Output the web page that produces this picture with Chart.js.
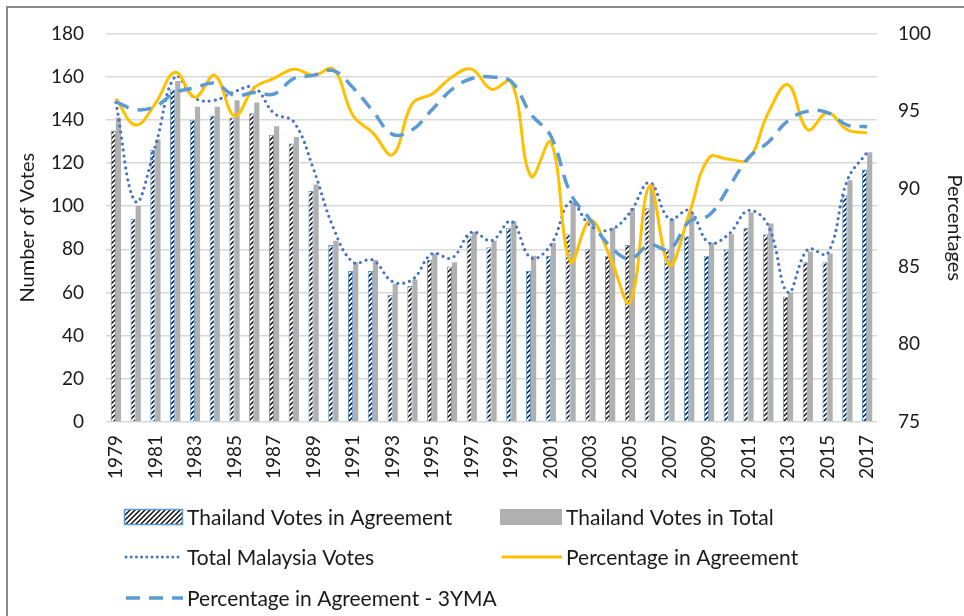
<!DOCTYPE html>
<html>
<head>
<meta charset="utf-8">
<script src="https://cdn.jsdelivr.net/npm/chart.js@4.4.1/dist/chart.umd.min.js"></script>
<style>
  html, body { margin: 0; padding: 0; background: #fff; }
  #wrap { width: 964px; height: 616px; position: relative; }
</style>
</head>
<body>
<div id="wrap"><canvas id="c" width="964" height="616"></canvas></div>
<script>
const years = [1979,1980,1981,1982,1983,1984,1985,1986,1987,1988,1989,1990,1991,1992,1993,1994,1995,1996,1997,1998,1999,2000,2001,2002,2003,2004,2005,2006,2007,2008,2009,2010,2011,2012,2013,2014,2015,2016,2017];
const tickLabels = years.map(String);

const thailandAgreement = [135,94,126,154,140,142,141,143,133,129,107,82,70,70,59,63,75,72,86,81,90,70,77,87,80,77,82,99,80,86,77,80,90,87,58,74,74,105,117];
const thailandTotal = [141,100,131,158,146,146,149,148,137,132,110,84,74,75,64,66,78,74,88,84,93,77,83,102,91,90,99,110,94,97,83,87,97,92,60,79,78,112,125];
const malaysiaTotal = [148,102,128,160,150,149,153,155,143,139,117,90,74,75,65,66,78,76,88,84,93,76,82,102,91,89,97,111,94,98,83,87,98,91,60,80,78,112,125];
const pctAgreement = [95.8,94.1,95.5,97.5,95.9,97.3,94.7,96.5,97.1,97.7,97.3,97.7,94.7,93.6,92.2,95.5,96.1,97.2,97.7,96.4,96.9,90.8,93.0,85.3,88.0,85.6,82.7,90.2,85.1,88.4,92.0,91.9,91.9,94.9,96.7,93.8,94.9,93.8,93.6];
const pct3YMA = [95.6,95.1,95.3,96.2,96.5,96.8,96.0,96.2,96.1,97.1,97.3,97.6,96.5,95.0,93.5,93.8,95.1,96.4,97.1,97.2,96.9,94.8,93.4,89.7,88.0,86.3,85.5,86.4,86.1,87.9,88.3,90.1,92.0,93.0,94.4,95.0,94.9,94.1,94.0];

const seriesNames = ['Thailand Votes in Agreement','Thailand Votes in Total','Total Malaysia Votes','Percentage in Agreement','Percentage in Agreement - 3YMA'];

const FONT = 'Lato';
const TXT = '#1a1a1a';
const BLUE_LIGHT = '#5B9BD5';
const BLUE_DARK = '#4472C4';
const ORANGE = '#FFC000';
const GRAY = '#B0B0B0';

function makeHatch() {
  const t = document.createElement('canvas');
  t.width = 5; t.height = 5;
  const g = t.getContext('2d');
  g.fillStyle = '#fff'; g.fillRect(0,0,5,5);
  g.strokeStyle = '#000'; g.lineWidth = 1.4;
  g.beginPath();
  g.moveTo(0,5); g.lineTo(5,0);
  g.moveTo(-1,1); g.lineTo(1,-1);
  g.moveTo(4,6); g.lineTo(6,4);
  g.stroke();
  return document.getElementById('c').getContext('2d').createPattern(t, 'repeat');
}
const hatch = makeHatch();

const frameAndLegend = {
  id: 'frameAndLegend',
  beforeDraw(chart) {
    const ctx = chart.ctx;
    ctx.save();
    ctx.fillStyle = '#fff';
    ctx.fillRect(0,0,chart.width,chart.height);
    ctx.restore();
  },
  afterDraw(chart) {
    const ctx = chart.ctx;
    ctx.save();
    ctx.strokeStyle = '#8a8a8a';
    ctx.lineWidth = 2;
    ctx.beginPath();
    ctx.moveTo(7, 616); ctx.lineTo(7, 7); ctx.lineTo(964, 7);
    ctx.stroke();

    const items = [
      {x:124, y:517, w:59, kind:'hatch'},
      {x:500, y:517, w:62, kind:'gray'},
      {x:124, y:557, w:59, kind:'dot'},
      {x:500, y:557, w:62, kind:'solid'},
      {x:124, y:598, w:59, kind:'dash'}
    ];
    ctx.font = '21px ' + FONT;
    ctx.textBaseline = 'middle';
    ctx.textAlign = 'left';
    items.forEach((it, i) => {
      if (it.kind === 'hatch') {
        ctx.fillStyle = hatch;
        ctx.fillRect(it.x, it.y-8, it.w, 16);
        ctx.strokeStyle = BLUE_LIGHT; ctx.lineWidth = 1.5;
        ctx.strokeRect(it.x+0.5, it.y-7.5, it.w-1, 15);
      } else if (it.kind === 'gray') {
        ctx.fillStyle = GRAY;
        ctx.fillRect(it.x, it.y-8, it.w, 16);
      } else {
        ctx.beginPath();
        ctx.lineWidth = 3;
        if (it.kind === 'dot') { ctx.strokeStyle = BLUE_DARK; ctx.setLineDash([0,5.2]); ctx.lineCap = 'round'; }
        if (it.kind === 'solid') { ctx.strokeStyle = ORANGE; ctx.setLineDash([]); ctx.lineCap = 'butt'; }
        if (it.kind === 'dash') { ctx.strokeStyle = BLUE_LIGHT; ctx.lineWidth = 3.5; ctx.setLineDash([14,9]); ctx.lineCap = 'butt'; }
        ctx.moveTo(it.x+2, it.y); ctx.lineTo(it.x+it.w, it.y);
        ctx.stroke();
        ctx.setLineDash([]);
      }
      ctx.fillStyle = TXT;
      ctx.fillText(seriesNames[i], it.x + it.w + 4, it.y + 1);
    });
    ctx.restore();
  }
};

const tickFont = {family: FONT, size: 19};

new Chart(document.getElementById('c'), {
  data: {
    labels: years,
    datasets: [
      {type:'line', label: seriesNames[4], data: pct3YMA, yAxisID:'y1', borderColor: BLUE_LIGHT, borderWidth: 3.5, borderDash:[14,9], pointRadius:0, tension:0.4, fill:false, order:0},
      {type:'line', label: seriesNames[3], data: pctAgreement, yAxisID:'y1', borderColor: ORANGE, borderWidth: 3, pointRadius:0, tension:0.4, fill:false, order:1},
      {type:'line', label: seriesNames[2], data: malaysiaTotal, yAxisID:'y', borderColor: BLUE_DARK, borderWidth: 3.2, borderDash:[0,6], borderCapStyle:'round', pointRadius:0, tension:0.4, fill:false, order:2},
      {type:'bar', label: seriesNames[0], data: thailandAgreement, yAxisID:'y', backgroundColor: hatch, borderColor: BLUE_LIGHT, borderWidth: 1, categoryPercentage: 0.52, barPercentage: 1.0, order:3},
      {type:'bar', label: seriesNames[1], data: thailandTotal, yAxisID:'y', backgroundColor: GRAY, borderWidth: 0, categoryPercentage: 0.52, barPercentage: 1.0, order:4}
    ]
  },
  options: {
    responsive: false,
    animation: false,
    layout: {padding: {left: 7, top: 26, right: 0, bottom: 0}},
    plugins: {legend: {display: false}, tooltip: {enabled: false}},
    scales: {
      x: {
        grid: {display: false, drawTicks: false},
        border: {display: false},
        ticks: {
          autoSkip: false, maxRotation: 90, minRotation: 90, padding: 13,
          font: tickFont, color: TXT,
          callback: (v, i) => (i % 2 === 0 ? tickLabels[i] : '')
        },
        afterFit(s) { s.height = 194; }
      },
      y: {
        position: 'left', min: 0, max: 180,
        ticks: {stepSize: 20, padding: 22, font: tickFont, color: TXT},
        grid: {color: '#d9d9d9', lineWidth: 1.5, drawTicks: false},
        border: {display: false},
        title: {display: true, text: 'Number of Votes', color: TXT, font: {family: FONT, size: 20, lineHeight: 1}, padding: {top: 11, bottom: 0}},
        afterFit(s) { s.width = 99; }
      },
      y1: {
        position: 'right', min: 75, max: 100,
        ticks: {stepSize: 5, padding: 21, font: tickFont, color: TXT},
        grid: {display: false, drawTicks: false},
        border: {display: false},
        title: {display: true, text: 'Percentages', color: TXT, font: {family: FONT, size: 20, lineHeight: 1}, padding: {top: 0, bottom: 0}},
        afterFit(s) { s.width = 87; }
      }
    }
  },
  plugins: [frameAndLegend]
});
</script>
</body>
</html>
